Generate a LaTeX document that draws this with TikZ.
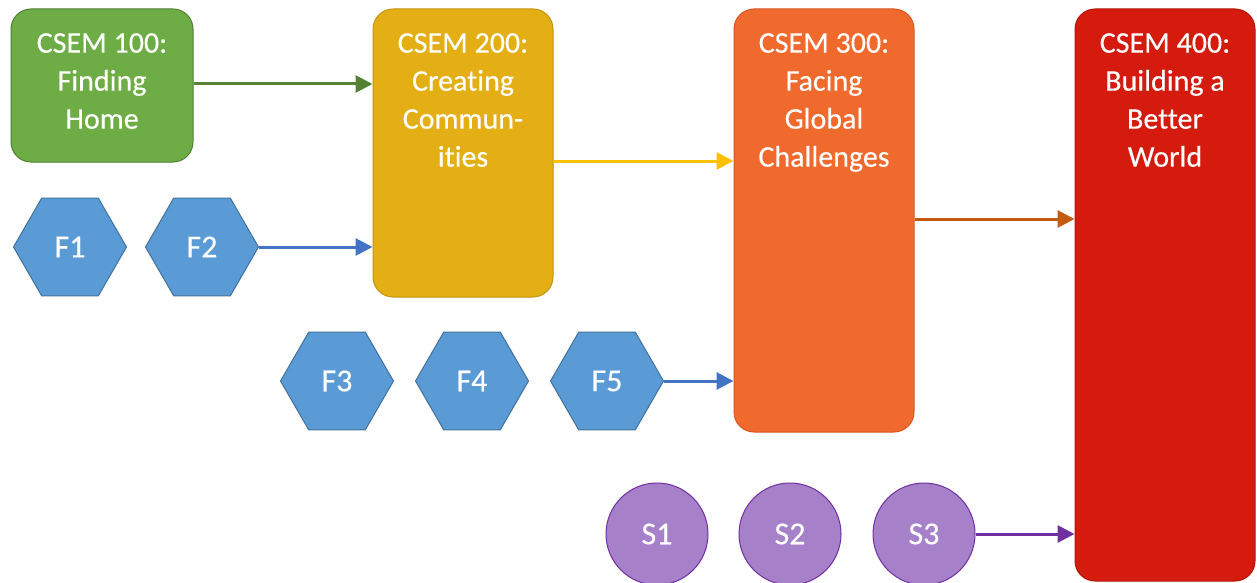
\documentclass[tikz,border=0pt]{standalone}
\usepackage{fontspec}
\setmainfont{Carlito}[Ligatures=NoCommon, FakeBold=0.3]
\usetikzlibrary{shapes.geometric,arrows.meta}
\definecolor{gfill}{HTML}{6EAD45}
\definecolor{gline}{HTML}{507E32}
\definecolor{yfill}{HTML}{E4AF15}
\definecolor{yline}{HTML}{C4950E}
\definecolor{ofill}{HTML}{F06A2D}
\definecolor{oline}{HTML}{D8561F}
\definecolor{rfill}{HTML}{D41B0D}
\definecolor{rline}{HTML}{B0160B}
\definecolor{hfill}{HTML}{5B9BD5}
\definecolor{hline}{HTML}{41719C}
\definecolor{pfill}{HTML}{A680C8}
\definecolor{pline}{HTML}{7030A0}
\definecolor{agreen}{HTML}{548235}
\definecolor{ablue}{HTML}{4472C4}
\definecolor{ayellow}{HTML}{FFC000}
\definecolor{aorange}{HTML}{C55A11}
\definecolor{apurple}{HTML}{7030A0}
\tikzset{
  course/.style={rectangle, rounded corners=20pt, line width=1pt, inner sep=0pt, minimum width=180pt},
  coursetext/.style={anchor=north, align=center, text=white, inner sep=0pt,
     font=\fontsize{30}{38}\selectfont},
  hexnode/.style={regular polygon, regular polygon sides=6, minimum size=113pt, inner sep=0pt,
     fill=hfill, draw=hline, line width=1pt, text=white, font=\fontsize{32}{36}\selectfont},
  seminar/.style={circle, minimum size=102pt, inner sep=0pt, fill=pfill, draw=pline,
     line width=1pt, text=white, font=\fontsize{32}{36}\selectfont},
  flow/.style={line width=3pt, -{Triangle[length=17pt,width=17pt]}},
}
\begin{document}
\begin{tikzpicture}[x=1pt,y=-1pt]
\useasboundingbox (0,0) rectangle (1257,583);
% course boxes
\node[course, fill=gfill, draw=gline, minimum width=182pt, minimum height=153pt] (b1) at (102,85.5) {};
\node[course, fill=yfill, draw=yline, minimum height=288pt] (b2) at (463,153) {};
\node[course, fill=ofill, draw=oline, minimum height=423pt] (b3) at (824,220.5) {};
\node[course, fill=rfill, draw=rline, minimum height=572pt] (b4) at (1165,295) {};
\node[coursetext] (t1) at (102,33) {CSEM 100:\\Finding\\Home};
\node[coursetext] (t2) at (463,33) {CSEM 200:\\Creating\\Commun-\\ities};
\node[coursetext] (t3) at (824,33) {CSEM 300:\\Facing\\Global\\Challenges};
\node[coursetext] (t4) at (1165,33) {CSEM 400:\\Building a\\Better\\World};
% hexagons
\node[hexnode] (f1) at (70,247) {F1};
\node[hexnode] (f2) at (202,247) {F2};
\node[hexnode] (f3) at (337,381) {F3};
\node[hexnode] (f4) at (472,381) {F4};
\node[hexnode] (f5) at (607,381) {F5};
% seminars
\node[seminar] (s1) at (657,534) {S1};
\node[seminar] (s2) at (790,534) {S2};
\node[seminar] (s3) at (924,534) {S3};
% connectors
\draw[flow, agreen] ([yshift=1.5pt]b1.east) -- ([yshift=1.5pt]b1.east -| b2.west);
\draw[flow, ablue] (f2.east) -- (f2.east -| b2.west);
\draw[flow, ayellow] ([yshift=-8pt]b2.east) -- ([yshift=-8pt]b2.east -| b3.west);
\draw[flow, ablue] (f5.east) -- (f5.east -| b3.west);
\draw[flow, aorange] ([yshift=1.5pt]b3.east) -- ([yshift=1.5pt]b3.east -| b4.west);
\draw[flow, apurple] (s3.east) -- (s3.east -| b4.west);
\end{tikzpicture}
\end{document}
